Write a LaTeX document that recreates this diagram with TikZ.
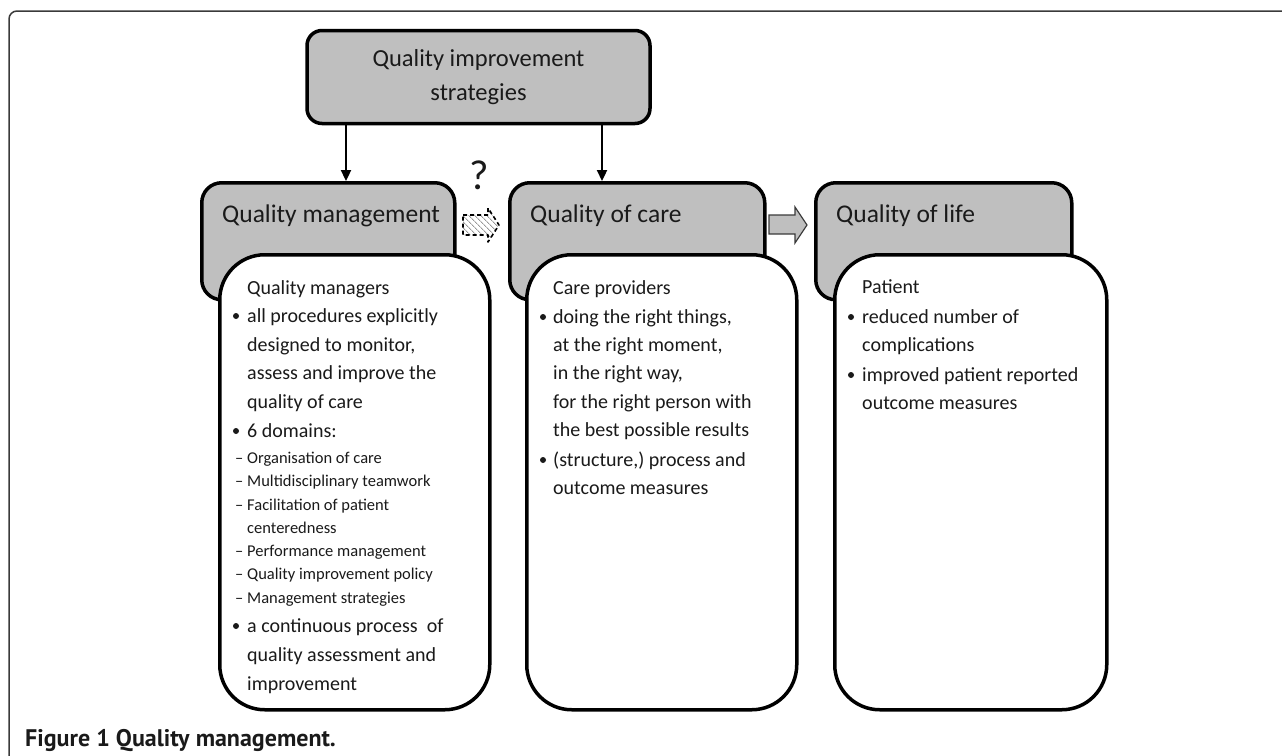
\documentclass[tikz,border=0pt]{standalone}
\usepackage{fontspec}
\setmainfont{Carlito}
\newfontfamily\capfont{PT Sans}
\usetikzlibrary{arrows.meta,patterns.meta,calc}
\definecolor{boxgray}{HTML}{BFBFBF}
\definecolor{txt}{HTML}{1A1A1A}
\definecolor{framec}{HTML}{3A3A3A}
\tikzset{
  topbox/.style={draw, line width=3.5pt, fill=boxgray, rounded corners=15pt, inner sep=0pt, text=txt},
  graybox/.style={draw, line width=3.5pt, fill=boxgray, rounded corners=20pt, anchor=north west, inner sep=0pt},
  whitebox/.style={draw, line width=3.5pt, fill=white, rounded corners=45pt, anchor=north west, inner sep=0pt},
  hdr/.style={anchor=base west, font=\fontsize{25.5}{30}\selectfont, inner sep=0pt, text=txt},
  bodyt/.style={anchor=base west, font=\fontsize{20}{24}\selectfont, inner sep=0pt, text=txt},
  smallt/.style={anchor=base west, font=\fontsize{16.5}{19}\selectfont, inner sep=0pt, text=txt},
  dsh/.style={anchor=base west, font=\fontsize{16.5}{19}\selectfont, inner sep=0pt, text=txt},
  bul/.style={circle, fill=txt, inner sep=0pt, minimum size=6pt},
  arr/.style={line width=2.3pt, -{Triangle[length=11pt,width=10pt]}},
  frame/.style={draw=framec, line width=1.5pt, rounded corners=8pt},
}
\begin{document}
\begin{tikzpicture}[x=1pt,y=-1pt]
\useasboundingbox (0,0) rectangle (1282,755);
% frame
\draw[frame] (9,757) -- (9,11) -- (1284,11);

% top box
\node[topbox, minimum width=343pt, minimum height=93pt, align=center,
      font=\fontsize{24.5}{34}\selectfont] (top) at (478.5,77) {Quality improvement\\strategies};

% gray header boxes
\node[graybox, minimum width=253pt, minimum height=117pt] (qmh) at (200,181) {};
\node[graybox, minimum width=255pt, minimum height=117pt] (qch) at (508,181) {};
\node[graybox, minimum width=256pt, minimum height=117pt] (qlh) at (814,181) {};

\node[hdr] (qmt) at (222,222) {Quality management};
\node[hdr] (qct) at (530,222) {Quality of care};
\node[hdr] (qlt) at (836,222) {Quality of life};

% white boxes
\node[whitebox, minimum width=270pt, minimum height=455pt] (qmw) at (218,253) {};
\node[whitebox, minimum width=270pt, minimum height=455pt] (qcw) at (525,253) {};
\node[whitebox, minimum width=272pt, minimum height=455pt] (qlw) at (833,253) {};

% arrows from top box
\coordinate (a1) at (346,0);
\coordinate (a2) at (602,0);
\draw[arr] (top.south -| a1) -- (qmh.north -| a1);
\draw[arr] (top.south -| a2) -- (qch.north -| a2);

% question mark and dashed hatched arrow
\node[font=\fontsize{42}{46}\selectfont, text=txt, inner sep=0pt] (q) at (479,175) {?};
\path[pattern={Lines[angle=-45,distance=4pt,line width=1pt]}, pattern color=gray!80]
  (463,215) -- (488,215) -- (488,208) -- (499,225) -- (488,242) -- (488,235) -- (463,235) -- cycle;
\draw[line width=1.6pt, dash pattern=on 4pt off 3pt, line join=round]
  (463,215) -- (488,215) -- (488,208) -- (499,225) -- (488,242) -- (488,235) -- (463,235) -- cycle;

% solid block arrow
\draw[fill=boxgray, draw=framec, line width=1.2pt, line join=miter]
  (769,215) -- (795,215) -- (795,207) -- (807,225) -- (795,243) -- (795,234) -- (769,234) -- cycle;

% Quality management box text
\node[bodyt] (m1) at (247,294) {Quality managers};
\node[bul] (mb1) at (236,316) {};
\node[bodyt] (m2) at (247,322) {all procedures explicitly};
\node[bodyt] (m3) at (247,351) {designed to monitor,};
\node[bodyt] (m4) at (247,379) {assess and improve the};
\node[bodyt] (m5) at (247,408) {quality of care};
\node[bul] (mb2) at (236,431) {};
\node[bodyt] (m6) at (247,437) {6 domains:};
\node[dsh] (dd1) at (235,463) {–};
\node[smallt] (d1) at (247,463) {Organisation of care};
\node[dsh] (dd2) at (235,486) {–};
\node[smallt] (d2) at (247,486) {Multidisciplinary teamwork};
\node[dsh] (dd3) at (235,510) {–};
\node[smallt] (d3) at (247,510) {Facilitation of patient};
\node[smallt] (d3b) at (247,533) {centeredness};
\node[dsh] (dd4) at (235,556) {–};
\node[smallt] (d4) at (247,556) {Performance management};
\node[dsh] (dd5) at (235,579) {–};
\node[smallt] (d5) at (247,579) {Quality improvement policy};
\node[dsh] (dd6) at (235,603) {–};
\node[smallt] (d6) at (247,603) {Management strategies};
\node[bul] (mb3) at (236,626) {};
\node[bodyt] (m7) at (247,632) {a continuous process\ \ of};
\node[bodyt] (m8) at (247,661) {quality assessment and};
\node[bodyt] (m9) at (247,690) {improvement};

% Quality of care box text
\node[bodyt] (c1) at (553,294) {Care providers};
\node[bul] (cb1) at (543,317) {};
\node[bodyt] (c2) at (553,323) {doing the right things,};
\node[bodyt] (c3) at (553,351) {at the right moment,};
\node[bodyt] (c4) at (553,379) {in the right way,};
\node[bodyt] (c5) at (553,408) {for the right person with};
\node[bodyt] (c6) at (553,436) {the best possible results};
\node[bul] (cb2) at (543,460) {};
\node[bodyt] (c7) at (553,466) {(structure,) process and};
\node[bodyt] (c8) at (553,494) {outcome measures};

% Quality of life box text
\node[bodyt] (l1) at (862,293) {Patient};
\node[bul] (lb1) at (851,317) {};
\node[bodyt] (l2) at (862,323) {reduced number of};
\node[bodyt] (l3) at (862,351) {complications};
\node[bul] (lb2) at (851,375) {};
\node[bodyt] (l4) at (862,381) {improved patient reported};
\node[bodyt] (l5) at (862,409) {outcome measures};

% caption
\node[anchor=base west, inner sep=0pt, font=\capfont\bfseries\fontsize{24}{28}\selectfont, text=txt] (cap) at (25,746) {Figure 1 Quality management.};
\end{tikzpicture}
\end{document}
